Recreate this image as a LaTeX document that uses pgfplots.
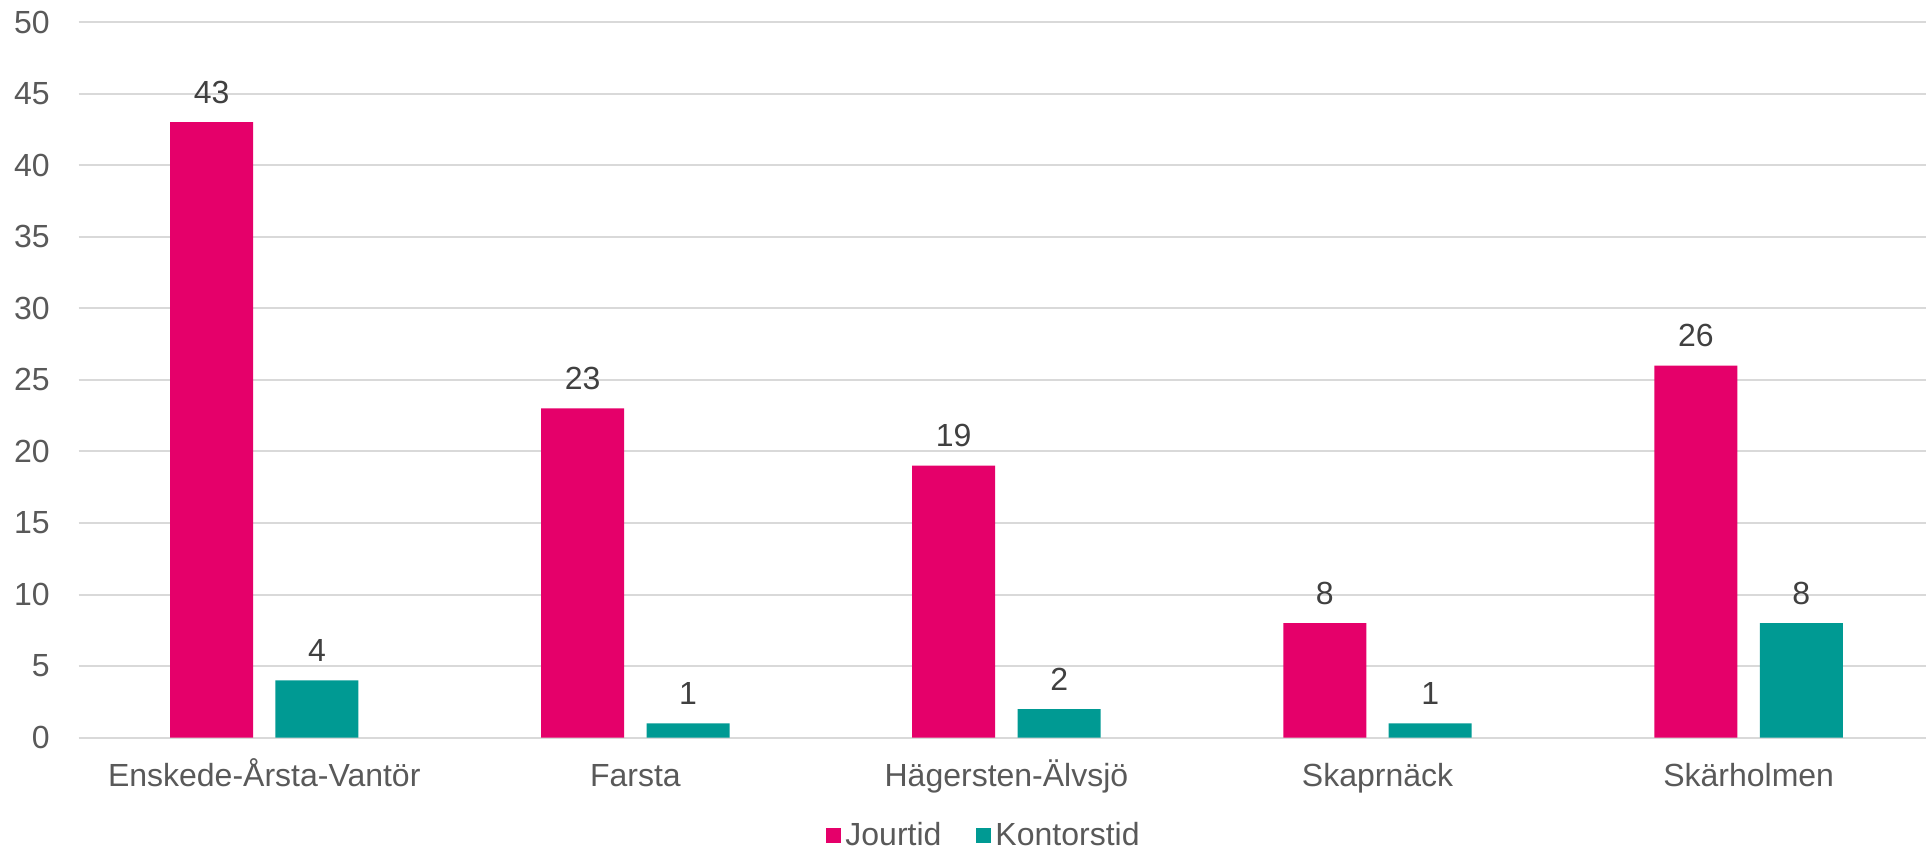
\documentclass[border=0pt]{standalone}
\usepackage{pgfplots}
\pgfplotsset{compat=1.18}
\usepackage{fontspec}
\setmainfont{Liberation Sans}
\definecolor{cpink}{HTML}{E5006A}
\definecolor{cteal}{HTML}{009A93}
\definecolor{ctext}{HTML}{595959}
\definecolor{clabel}{HTML}{404040}
\definecolor{cgrid}{HTML}{D9D9D9}
\begin{document}
\begin{tikzpicture}
\begin{axis}[
  scale only axis,
  width=923.65pt, height=357.85pt,
  xmin=-0.5, xmax=4.478,
  ymin=0, ymax=50,
  ytick={0,5,...,50},
  xtick={0,1,2,3,4},
  xticklabels={Enskede-Årsta-Vantör,Farsta,Hägersten-Älvsjö,Skaprnäck,Skärholmen},
  /pgf/number format/assume math mode=true,
  tick label style={font=\fontsize{16}{19}\selectfont, text=ctext},
  xticklabel style={anchor=base, inner sep=0pt, yshift=-24.5pt},
  yticklabel style={anchor=east, inner sep=0pt, xshift=-14.35pt},
  major tick length=0pt,
  axis line style={draw=none},
  ymajorgrids,
  major grid style={cgrid, line width=1pt},
  ybar=11.2pt,
  bar width=41.5pt,
  nodes near coords,
  every node near coord/.append style={font=\fontsize{16}{19}\selectfont, text=clabel, anchor=base, inner sep=0pt, yshift=9.5pt},
  legend columns=2,
  legend style={draw=none, fill=none, at={(0.4906,-0.137)}, anchor=center,
    font=\fontsize{16}{19}\selectfont, text=ctext,
    /tikz/every even column/.append style={column sep=15.5pt}},
  legend image code/.code={\fill[#1] (0pt,-3.75pt) rectangle (7.5pt,3.75pt);},
]
\addplot[fill=cpink, draw=none] coordinates {(0,43) (1,23) (2,19) (3,8) (4,26)};
\addplot[fill=cteal, draw=none] coordinates {(0,4) (1,1) (2,2) (3,1) (4,8)};
\legend{Jourtid,Kontorstid}
\end{axis}
\pgfresetboundingbox
\path[use as bounding box] (-39.35pt,-55.65pt) rectangle (923.65pt,368.85pt);
\end{tikzpicture}
\end{document}
